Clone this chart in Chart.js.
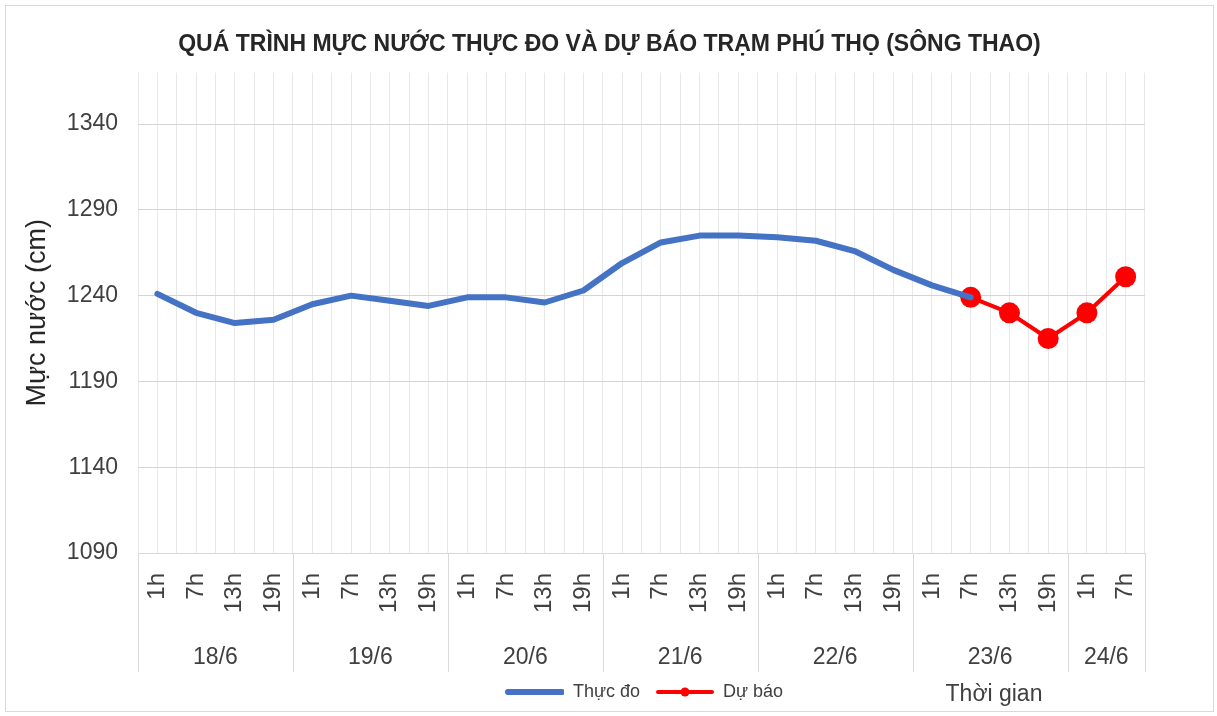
<!DOCTYPE html>
<html lang="vi">
<head>
  <meta charset="UTF-8">
  <title>Mực nước trạm Phú Thọ</title>
  <script src="https://cdn.jsdelivr.net/npm/chart.js"></script>
  <style>
    * { box-sizing: content-box; }
    body { margin: 0; background: #fff; }
    #wrap { position: absolute; left: 5px; top: 5px; width: 1207px; height: 705px; border: 1px solid #d9d9d9; }
  </style>
</head>
<body>
  <div id="wrap"><canvas id="waterChart"></canvas></div>

  <script>
    // data
    const hourLabels = ['1h','7h','13h','19h','1h','7h','13h','19h','1h','7h','13h','19h',
                        '1h','7h','13h','19h','1h','7h','13h','19h','1h','7h','13h','19h','1h','7h'];
    const days = ['18/6','19/6','20/6','21/6','22/6','23/6','24/6'];
    const hoursPerDay = [4, 4, 4, 4, 4, 4, 2];
    const measured = [1241, 1230, 1224, 1226, 1235, 1240, 1237, 1234, 1239, 1239, 1236, 1243,
                      1259, 1271, 1275, 1275, 1274, 1272, 1266, 1255, 1246, 1239];
    const forecast = [null, null, null, null, null, null, null, null, null, null, null, null,
                      null, null, null, null, null, null, null, null, null,
                      1239, 1230, 1215, 1230, 1251];
    const yTicks = [1090, 1140, 1190, 1240, 1290, 1340];

    const BLUE = '#4472c4';
    const RED = '#ff0000';
    const TXT = '#404040';
    const FONT = '"Liberation Sans", Arial, sans-serif';

    // legend icons (line, line + dot)
    function legendIcon(color, width, dot) {
      const c = document.createElement('canvas');
      c.width = 64; c.height = 22;
      const g = c.getContext('2d');
      g.strokeStyle = color;
      g.lineWidth = width;
      g.lineCap = 'round';
      g.beginPath(); g.moveTo(8, 11); g.lineTo(62, 11); g.stroke();
      if (dot) {
        g.fillStyle = color;
        g.beginPath(); g.arc(35, 11, 4.5, 0, Math.PI * 2); g.fill();
      }
      return c;
    }
    const icons = [legendIcon(BLUE, 6, false), legendIcon(RED, 4, true)];

    // date row under the hour labels + axis name
    const dayGroups = {
      id: 'dayGroups',
      afterDraw(chart) {
        const x = chart.scales.x;
        const area = chart.chartArea;
        const ctx = chart.ctx;
        const half = (x.getPixelForValue(1) - x.getPixelForValue(0)) / 2;
        ctx.save();
        ctx.strokeStyle = '#d9d9d9';
        ctx.lineWidth = 1;
        ctx.fillStyle = TXT;
        ctx.font = '23px ' + FONT;
        ctx.textAlign = 'center';
        ctx.textBaseline = 'middle';
        let idx = 0;
        days.forEach((d, i) => {
          const left = x.getPixelForValue(idx) - half;
          const right = x.getPixelForValue(idx + hoursPerDay[i] - 1) + half;
          ctx.beginPath();
          ctx.moveTo(Math.round(left) + 0.5, area.bottom);
          ctx.lineTo(Math.round(left) + 0.5, area.bottom + 119);
          ctx.stroke();
          if (i === days.length - 1) {
            ctx.beginPath();
            ctx.moveTo(Math.round(right) + 0.5, area.bottom);
            ctx.lineTo(Math.round(right) + 0.5, area.bottom + 119);
            ctx.stroke();
          }
          ctx.fillText(d, (left + right) / 2, area.bottom + 105);
          idx += hoursPerDay[i];
        });
        ctx.fillText('Thời gian', area.right - 151, chart.height - 16);
        ctx.restore();
      }
    };

    new Chart(document.getElementById('waterChart'), {
      type: 'line',
      data: {
        labels: hourLabels,
        datasets: [
          {
            label: 'Thực đo',
            data: measured,
            borderColor: BLUE,
            backgroundColor: BLUE,
            borderWidth: 6,
            pointRadius: 0,
            tension: 0,
            borderCapStyle: 'round',
            borderJoinStyle: 'round'
          },
          {
            label: 'Dự báo',
            data: forecast,
            borderColor: RED,
            backgroundColor: RED,
            borderWidth: 4,
            pointRadius: 10.5,
            pointBorderWidth: 0,
            pointBackgroundColor: RED,
            tension: 0
          }
        ]
      },
      options: {
        responsive: true,
        maintainAspectRatio: false,
        animation: false,
        layout: { padding: 0 },
        plugins: {
          title: {
            display: true,
            text: 'QUÁ TRÌNH MỰC NƯỚC THỰC ĐO VÀ DỰ BÁO TRẠM PHÚ THỌ (SÔNG THAO)',
            color: '#262626',
            font: { family: FONT, size: 23, weight: 'bold', lineHeight: 1.2 },
            padding: { top: 25, bottom: 14 }
          },
          legend: {
            position: 'bottom',
            fullSize: false,
            labels: {
              usePointStyle: true,
              pointStyleWidth: 64,
              padding: 10,
              color: TXT,
              font: { family: FONT, size: 18 },
              generateLabels: chart => chart.data.datasets.map((ds, i) => ({
                text: ds.label,
                pointStyle: icons[i],
                fillStyle: 'transparent',
                strokeStyle: 'transparent',
                lineWidth: 0,
                fontColor: TXT,
                datasetIndex: i
              }))
            }
          },
          tooltip: { enabled: false }
        },
        scales: {
          x: {
            type: 'category',
            offset: true,
            grid: { offset: true, color: '#e8e8e8', drawTicks: false },
            border: { display: true, color: '#d9d9d9' },
            ticks: {
              autoSkip: false,
              minRotation: 90,
              maxRotation: 90,
              padding: 20,
              color: TXT,
              font: { family: FONT, size: 24 }
            },
            afterFit: s => { s.height = 120; }
          },
          x2: {
            type: 'category',
            position: 'bottom',
            offset: true,
            grid: { offset: false, color: '#e8e8e8', drawTicks: false },
            border: { display: false },
            ticks: { display: false },
            afterFit: s => { s.height = 0; }
          },
          y: {
            min: 1090,
            max: 1370,
            afterBuildTicks: s => { s.ticks = yTicks.map(v => ({ value: v })); },
            grid: { color: '#d4d4d4', drawTicks: false },
            border: { display: false },
            ticks: {
              padding: 20,
              color: TXT,
              font: { family: FONT, size: 23 },
              callback: v => String(v)
            },
            title: {
              display: true,
              text: 'Mực nước (cm)',
              color: '#262626',
              padding: { top: 15, bottom: 0 },
              font: { family: FONT, size: 27 }
            },
            afterFit: s => { s.width = 132; }
          },
          // empty right gutter so the plot ends where the reference does
          y2: {
            position: 'right',
            grid: { display: false },
            border: { display: false },
            ticks: { display: false },
            afterFit: s => { s.width = 68; }
          }
        }
      },
      plugins: [dayGroups]
    });
  </script>
</body>
</html>
